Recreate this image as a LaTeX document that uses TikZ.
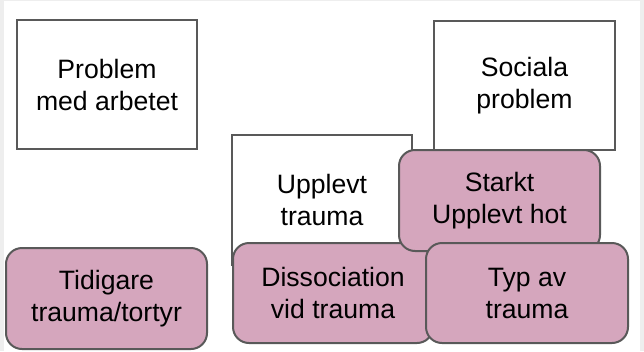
\documentclass[tikz,border=0pt]{standalone}
\usepackage{fontspec}
\setmainfont{Liberation Sans}
\definecolor{edgegray}{HTML}{595959}
\definecolor{pinkfill}{HTML}{D5A6BD}
\definecolor{framegray}{HTML}{EEEEEE}
\tikzset{
  plainbox/.style={draw=edgegray, line width=2pt, fill=white, align=center, inner sep=0pt,
    font=\fontsize{26.6}{32}\selectfont},
  pinkbox/.style={plainbox, fill=pinkfill, rounded corners=16pt}
}
\begin{document}
\begin{tikzpicture}[x=1pt,y=-1pt]
\useasboundingbox (0,0) rectangle (644,351);
\fill[white] (0,0) rectangle (644,351);
\fill[framegray] (0,0) rectangle (4,351);
\fill[framegray] (640,0) rectangle (644,351);
\fill[framegray] (0,0) rectangle (644,1.2);
\node[plainbox, minimum width=180pt, minimum height=129pt] (problem) at (107,84.5) {Problem\\med arbetet};
\node[plainbox, minimum width=181pt, minimum height=129pt] (sociala) at (524.5,85.5) {Sociala\\problem};
\node[plainbox, minimum width=180pt, minimum height=130pt] (upplevt) at (322,200) {Upplevt\\trauma};
\node[pinkbox, minimum width=201pt, minimum height=101pt] (tidigare) at (106.5,298.5) {Tidigare\\trauma/tortyr};
\node[pinkbox, minimum width=200pt, minimum height=100pt] (dissoc) at (333,293) {Dissociation\\vid trauma};
\node[pinkbox, minimum width=201pt, minimum height=101pt] (starkt) at (499.5,200.5) {Starkt\\Upplevt hot};
\node[pinkbox, minimum width=202pt, minimum height=100pt] (typ) at (527,293) {Typ av\\trauma};
\end{tikzpicture}
\end{document}
